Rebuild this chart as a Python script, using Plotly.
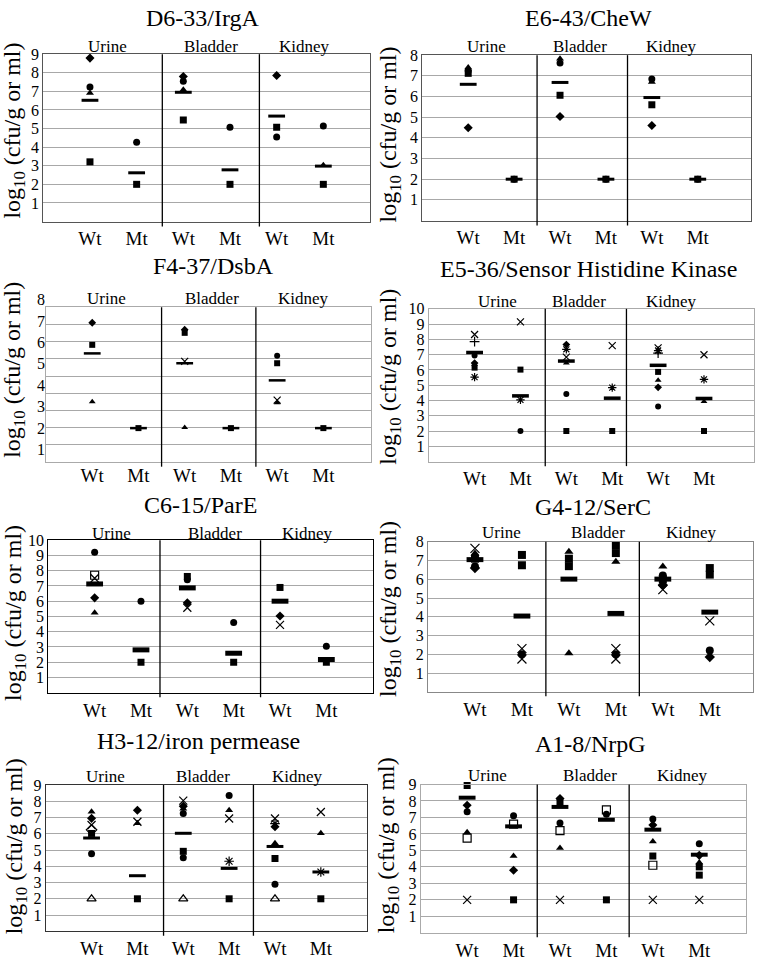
import plotly.graph_objects as go

W, H = 757, 961
SERIF = "Liberation Serif"
N = None

cat_labels = ["Wt", "Mt", "Wt", "Mt", "Wt", "Mt"]
cat_pos = [1, 2, 3, 4, 5, 6]
sections = ["Urine", "Bladder", "Kidney"]
ylabel = "log<sub>10</sub> (cfu/g or ml)"

# ---------------- data (log10 cfu/g or ml) per mouse marker, order = cat_pos
irga_title = "D6-33/IrgA"
irga_mean = [6.52, 2.62, 6.95, 2.78, 5.67, 2.98]
irga_pts = {
    "diamond":  [8.79, N, 7.80, N, 7.85, N],
    "circle":   [7.23, 4.27, 7.55, 5.07, 4.54, 5.14],
    "triangle": [6.91, N, 7.09, N, N, 3.03],
    "square":   [3.21, 2.0, 5.46, 2.0, 5.07, 2.0],
}

chew_title = "E6-43/CheW"
chew_mean = [6.59, 2.0, 6.68, 2.0, 5.95, 2.0]
chew_pts = {
    "triangle": [7.40, N, 7.83, N, 6.70, N],
    "circle":   [7.25, 2.0, 7.62, 2.0, 6.85, 2.0],
    "square":   [7.12, 2.0, 6.06, 2.0, 5.60, 2.0],
    "diamond":  [4.49, N, 5.03, N, 4.60, N],
}

dsba_title = "F4-37/DsbA"
dsba_mean = [5.49, 2.0, 5.03, 2.0, 4.23, 2.0]
dsba_pts = {
    "diamond":  [6.92, N, 6.60, N, N, N],
    "circle":   [N, N, N, N, 5.38, N],
    "square":   [5.89, 2.0, 6.45, 2.0, 5.03, 2.0],
    "x":        [N, N, 5.12, N, 3.31, N],
    "triangle": [3.23, N, 2.03, N, 3.18, N],
}

shk_title = "E5-36/Sensor Histidine Kinase"
shk_mean = [7.14, 4.30, 6.58, 4.15, 6.30, 4.13]
shk_pts = {
    "x":        [8.32, 9.14, 6.84, 7.59, 7.44, 6.99],
    "cross":    [7.85, N, N, N, 7.10, N],
    "asterisk": [5.53, 4.04, 7.35, 4.84, 7.27, 5.38],
    "circle":   [6.95, 2.0, 4.43, N, 3.61, N],
    "diamond":  [6.45, N, 7.66, N, 4.86, N],
    "triangle": [6.35, N, 6.45, N, 5.33, 3.94],
    "square":   [6.15, 6.02, 2.0, 2.0, 5.87, 2.0],
}

pare_title = "C6-15/ParE"
pare_mean = [7.13, 2.81, 6.87, 2.59, 6.00, 2.18]
pare_pts = {
    "circle":      [9.20, 6.00, 7.40, 4.60, N, 3.05],
    "open_square": [7.70, N, N, N, N, N],
    "x":           [7.50, N, 5.57, N, 4.45, N],
    "diamond":     [6.22, N, 5.90, N, 5.03, N],
    "triangle":    [5.25, N, N, N, N, N],
    "square":      [N, 2.0, 7.62, 2.0, 6.90, 2.0],
}

serc_title = "G4-12/SerC"
serc_mean = [7.05, 4.04, 6.01, 4.18, 6.01, 4.25]
serc_pts = {
    "x":          [7.65, 2.30, N, 2.30, 5.45, 3.78],
    "x_b":        [N, 1.75, N, 1.75, N, N],
    "triangle":   [7.38, N, 7.47, 6.94, 6.68, N],
    "triangle_b": [N, N, 2.05, N, N, N],
    "square":     [7.10, 7.30, 7.10, 7.82, 6.00, 6.60],
    "square_b":   [N, 6.75, 6.70, 7.40, N, 6.25],
    "circle":     [6.68, 2.0, N, 2.0, 6.20, 2.20],
    "diamond":    [6.60, N, N, N, 5.70, 1.85],
}

iron_title = "H3-12/iron permease"
iron_mean = [5.74, 3.42, 6.03, 3.87, 5.22, 3.65]
iron_pts = {
    "triangle":      [7.35, 6.64, 7.54, 7.44, 5.42, 6.03],
    "diamond":       [6.95, 7.45, 7.70, N, 6.43, N],
    "x":             [6.54, 6.74, 8.04, 6.94, 6.94, 7.34],
    "asterisk":      [N, N, N, 4.31, 6.63, 3.65],
    "open_diamond":  [6.24, N, N, N, N, N],
    "square":        [6.02, 2.0, 4.92, 2.0, 4.48, 2.0],
    "circle":        [4.77, N, 7.24, 8.35, 2.90, N],
    "circle_b":      [N, N, 4.52, N, N, N],
    "open_triangle": [2.0, N, 2.0, N, 2.0, N],
}

nrpg_title = "A1-8/NrpG"
nrpg_mean = [8.20, 6.46, 7.64, 6.86, 6.26, 4.74]
nrpg_pts = {
    "square":      [8.94, 2.0, 7.90, 2.0, 4.66, 4.00],
    "square_b":    [N, N, N, N, N, 3.50],
    "diamond":     [7.74, 3.80, 8.15, N, 6.54, 4.70],
    "circle":      [7.34, 7.10, 6.66, 7.20, 6.90, 5.40],
    "triangle":    [6.10, 4.66, 5.14, N, 5.54, 4.26],
    "open_square": [5.74, 6.60, 6.20, 7.46, 4.10, N],
    "x":           [2.0, N, 2.0, N, 2.0, 2.0],
}

# ---------------- styles
SYMBOL = {
    "circle": "circle", "circle_b": "circle",
    "square": "square", "square_b": "square",
    "diamond": "diamond",
    "triangle": "triangle-up", "triangle_b": "triangle-up",
    "x": "x-thin-open", "x_b": "x-thin-open",
    "cross": "cross-thin-open",
    "asterisk": "asterisk-open",
    "open_square": "square-open",
    "open_triangle": "triangle-up-open",
    "open_diamond": "diamond-open",
}
TICK_SIZE = 16

# layout per panel: plot box in px (left, right, top, bottom)
panels = [
    dict(title=irga_title, mean=irga_mean, pts=irga_pts, ymax=9,
         box=(43.3, 370, 46.7, 216), xr=(0, 7), seps=(2.55, 4.63),
         sec_x=(1.37, 3.59, 5.6), sec_y=39.3, tpos=(203, 10), ypos=(14, 124),
         frame="#555555", bar=3, ms=7),
    dict(title=chew_title, mean=chew_mean, pts=chew_pts, ymax=8,
         box=(422.3, 751, 47.7, 215), xr=(0, 7.16), seps=(2.50, 4.47),
         sec_x=(1.4, 3.43, 5.43), sec_y=39.3, tpos=(588, 10), ypos=(390, 128),
         frame="#555555", bar=3, ms=7),
    dict(title=dsba_title, mean=dsba_mean, pts=dsba_pts, ymax=9,
         box=(46, 371, 302.7, 459.3), xr=(0, 7.03), seps=(2.50, 4.54),
         sec_x=(1.3, 3.58, 5.57), sec_y=294, tpos=(213, 261), ypos=(14, 366),
         frame="#aaaaaa", bar=2.5, ms=6),
    dict(title=shk_title, mean=shk_mean, pts=shk_pts, ymax=10,
         box=(428.7, 754, 304.3, 458.8), xr=(0, 7.09), seps=(2.54, 4.31),
         sec_x=(1.5, 3.28, 5.3), sec_y=296.7, tpos=(588, 264), ypos=(390, 373),
         frame="#aaaaaa", bar=3.5, ms=6),
    dict(title=pare_title, mean=pare_mean, pts=pare_pts, ymax=10,
         box=(48.3, 372.7, 538.3, 692.7), xr=(0, 7), seps=(2.41, 4.58),
         sec_x=(1.37, 3.6, 5.6), sec_y=532, tpos=(200, 503), ypos=(15, 612),
         frame="#000000", bar=5, ms=7),
    dict(title=serc_title, mean=serc_mean, pts=serc_pts, ymax=8,
         box=(428, 753, 540, 691.7), xr=(0, 6.92), seps=(2.51, 4.5),
         sec_x=(1.57, 3.63, 5.6), sec_y=530.7, tpos=(593, 505), ypos=(390, 608),
         frame="#888888", bar=5, ms=8),
    dict(title=iron_title, mean=iron_mean, pts=iron_pts, ymax=9,
         box=(45.7, 366.7, 786, 934), xr=(0, 7), seps=(2.57, 4.53),
         sec_x=(1.3, 3.43, 5.5), sec_y=777.3, tpos=(198, 741), ypos=(16, 848),
         frame="#333333", bar=3, ms=7),
    dict(title=nrpg_title, mean=nrpg_mean, pts=nrpg_pts, ymax=9,
         box=(420.7, 745.7, 785.5, 935.5), xr=(0, 7), seps=(2.51, 4.49),
         sec_x=(1.43, 3.64, 5.64), sec_y=776.7, tpos=(590, 745), ypos=(388, 847),
         frame="#aaaaaa", bar=4, ms=7),
]

# panel 3: its tick labels sit on a scale that is offset from its gridlines
dsba_label_top = 293.3                # px top of the label scale
dsba_label_range = (0.415, 8.08)


def fx(px):
    return px / W


def fy(py):
    return 1 - py / H


fig = go.Figure()
annotations = []
shapes = []
layout = {}

for i, p in enumerate(panels, start=1):
    sfx = "" if i == 1 else str(i)
    xname, yname = "x" + sfx, "y" + sfx
    l, r, t, b = p["box"]
    dx, dy = (xname, yname) if i != 3 else ("x9", "y9")

    for key, vals in p["pts"].items():
        sym = SYMBOL[key]
        thin = ("open" in sym)
        fig.add_trace(go.Scatter(
            x=cat_pos, y=vals, xaxis=dx, yaxis=dy, mode="markers",
            showlegend=False, cliponaxis=False,
            marker=dict(symbol=sym, size=p["ms"] + (1 if thin else 0), color="black",
                        line=dict(width=1.2 if thin else 0, color="black")),
        ))
    fig.add_trace(go.Scatter(
        x=cat_pos, y=p["mean"], xaxis=dx, yaxis=dy, mode="markers",
        showlegend=False, cliponaxis=False,
        marker=dict(symbol="line-ew", size=12, color="black",
                    line=dict(width=p["bar"], color="black")),
    ))

    xax = dict(
        domain=[fx(l), fx(r)], anchor=yname, range=list(p["xr"]),
        tickmode="array", tickvals=cat_pos, ticktext=cat_labels,
        tickfont=dict(family=SERIF, size=19, color="black"),
        showgrid=False, zeroline=False, showline=True, mirror=True,
        linecolor=p["frame"], linewidth=1, ticks="", fixedrange=True,
    )
    yax = dict(
        domain=[fy(b), fy(t)], anchor=xname, range=[0, p["ymax"]],
        tickmode="array", tickvals=list(range(1, p["ymax"] + 1)),
        tickfont=dict(family=SERIF, size=TICK_SIZE, color="black"),
        showgrid=True, gridcolor="#a8a8a8", gridwidth=1, zeroline=False,
        showline=True, mirror=True, linecolor=p["frame"], linewidth=1,
        ticks="", fixedrange=True,
    )
    if i == 3:
        # x3/y3 draw frame + grid only; x9/y9 carry the data and the labels
        xax["showticklabels"] = False
        yax.update(tickvals=list(range(1, 9)), showticklabels=False)
        layout["xaxis9"] = dict(domain=[fx(l), fx(r)], anchor="y9", range=list(p["xr"]),
                                tickmode="array", tickvals=cat_pos, ticktext=cat_labels,
                                tickfont=dict(family=SERIF, size=19, color="black"),
                                showgrid=False, zeroline=False, showline=False,
                                ticks="", fixedrange=True)
        layout["yaxis9"] = dict(domain=[fy(b), fy(dsba_label_top)], anchor="x9",
                                range=list(dsba_label_range), tickmode="array",
                                tickvals=list(range(1, 9)),
                                tickfont=dict(family=SERIF, size=TICK_SIZE, color="black"),
                                showgrid=False, zeroline=False, showline=False,
                                ticks="", fixedrange=True)
        fig.add_trace(go.Scatter(x=[None], y=[None], xaxis=xname, yaxis=yname,
                                 mode="markers", showlegend=False, hoverinfo="skip"))
    layout["xaxis" + sfx] = xax
    layout["yaxis" + sfx] = yax

    # separators between organs
    for sx in p["seps"]:
        shapes.append(dict(type="line", xref=xname, yref=yname + " domain",
                           x0=sx, x1=sx, y0=-0.03, y1=1.0,
                           line=dict(color="black", width=1.3)))

    # titles
    annotations.append(dict(text=p["title"], xref="paper", yref="paper",
                            x=fx(p["tpos"][0]), y=fy(p["tpos"][1]),
                            xanchor="center", yanchor="middle", showarrow=False,
                            font=dict(family=SERIF, size=24, color="black")))
    annotations.append(dict(text=ylabel, xref="paper", yref="paper",
                            x=fx(p["ypos"][0]), y=fy(p["ypos"][1]), textangle=-90,
                            xanchor="center", yanchor="middle", showarrow=False,
                            font=dict(family=SERIF, size=24, color="black")))
    for name, sx in zip(sections, p["sec_x"]):
        annotations.append(dict(text=name, xref=xname, yref="paper",
                                x=sx, y=fy(p["sec_y"]), xanchor="center",
                                yanchor="middle", showarrow=False,
                                font=dict(family=SERIF, size=17, color="black")))

fig.update_layout(
    width=W, height=H, margin=dict(l=0, r=0, t=0, b=0),
    paper_bgcolor="white", plot_bgcolor="rgba(0,0,0,0)",
    annotations=annotations, shapes=shapes, showlegend=False,
    **layout,
)

fig.write_html("out.html", config={"displayModeBar": False},
               post_script="document.body.style.margin='0';document.body.style.overflow='hidden';")
